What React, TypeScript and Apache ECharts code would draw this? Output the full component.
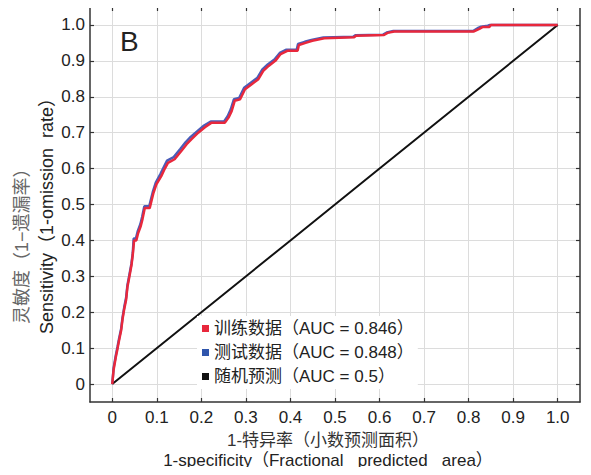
import React, { useEffect, useRef } from "react";
import * as echarts from "echarts";

const tickValues = [0, 0.1, 0.2, 0.3, 0.4, 0.5, 0.6, 0.7, 0.8, 0.9, 1.0];

const legendNames = [
  "训练数据（AUC = 0.846）",
  "测试数据（AUC = 0.848）",
  "随机预测（AUC = 0.5）",
];

// Training ROC: [1-specificity, sensitivity]
const trainRoc = [
  [0, 0], [0.003, 0.04], [0.008, 0.075], [0.012, 0.1], [0.015, 0.12], [0.02, 0.15],
  [0.023, 0.18], [0.027, 0.21], [0.031, 0.234], [0.034, 0.27], [0.037, 0.29],
  [0.04, 0.31], [0.043, 0.33], [0.046, 0.36], [0.049, 0.4], [0.054, 0.4],
  [0.058, 0.42], [0.064, 0.44], [0.068, 0.46], [0.073, 0.49], [0.084, 0.49],
  [0.088, 0.51], [0.092, 0.53], [0.099, 0.556], [0.11, 0.579], [0.118, 0.6],
  [0.125, 0.616], [0.14, 0.626], [0.155, 0.649], [0.167, 0.668], [0.178, 0.682],
  [0.193, 0.7], [0.208, 0.715], [0.223, 0.728], [0.253, 0.728], [0.261, 0.742],
  [0.268, 0.76], [0.275, 0.789], [0.287, 0.793], [0.298, 0.821], [0.313, 0.835],
  [0.328, 0.849], [0.339, 0.872], [0.351, 0.886], [0.366, 0.9], [0.378, 0.919],
  [0.393, 0.928], [0.416, 0.928], [0.419, 0.944], [0.434, 0.95], [0.449, 0.956],
  [0.476, 0.963], [0.543, 0.966], [0.547, 0.97], [0.61, 0.972], [0.618, 0.978],
  [0.633, 0.982], [0.812, 0.982], [0.824, 0.989], [0.831, 0.994], [0.846, 0.994],
  [0.85, 1.0], [1.0, 1.0],
];

// Test ROC
const testRoc = [
  [0, 0], [0.003, 0.045], [0.008, 0.08], [0.012, 0.105], [0.015, 0.125], [0.02, 0.155],
  [0.023, 0.185], [0.027, 0.215], [0.031, 0.24], [0.034, 0.275], [0.037, 0.295],
  [0.04, 0.315], [0.043, 0.335], [0.046, 0.365], [0.048, 0.405], [0.053, 0.405],
  [0.057, 0.425], [0.063, 0.445], [0.067, 0.465], [0.072, 0.495], [0.083, 0.495],
  [0.087, 0.515], [0.091, 0.535], [0.098, 0.562], [0.108, 0.585], [0.116, 0.605],
  [0.123, 0.622], [0.138, 0.632], [0.153, 0.655], [0.165, 0.674], [0.176, 0.688],
  [0.191, 0.704], [0.206, 0.72], [0.221, 0.731], [0.251, 0.731], [0.259, 0.746],
  [0.266, 0.765], [0.273, 0.793], [0.285, 0.797], [0.296, 0.825], [0.311, 0.839],
  [0.326, 0.853], [0.337, 0.876], [0.349, 0.89], [0.364, 0.904], [0.376, 0.922],
  [0.391, 0.931], [0.414, 0.931], [0.417, 0.947], [0.432, 0.953], [0.447, 0.958],
  [0.474, 0.965], [0.541, 0.967], [0.545, 0.971], [0.608, 0.973], [0.616, 0.979],
  [0.631, 0.983], [0.81, 0.983], [0.82, 0.991], [0.828, 0.995], [0.843, 0.998],
  [0.848, 1.0], [1.0, 1.0],
];

// Random prediction
const randomRoc = [
  [0, 0], [0.2, 0.2], [0.4, 0.4], [0.6, 0.6], [0.8, 0.8], [1.0, 1.0],
];

const FONT = "'Liberation Sans', Arial, 'Noto Sans CJK SC', sans-serif";

export default function App() {
  const ref = useRef<HTMLDivElement>(null);

  useEffect(() => {
    if (!ref.current) return;
    const chart = echarts.init(ref.current, undefined, { renderer: "svg" });
    const fmt = (v: number) => (Math.abs(v) < 1e-9 ? "0" : v.toFixed(1));
    const frameColor = "#333";
    const baseAxis = {
      type: "value",
      min: -0.05,
      max: 1.05,
      axisLine: { show: true, onZero: false, lineStyle: { color: frameColor, width: 1.5 } },
      axisTick: { show: true, inside: true, length: 4, customValues: tickValues, lineStyle: { color: frameColor, width: 1.2 } },
    };
    chart.setOption({
      animation: false,
      backgroundColor: "#fff",
      grid: { left: 90, top: 7, right: 11, bottom: 73, containLabel: false },
      xAxis: [
        {
          ...baseAxis,
          position: "bottom",
          axisLabel: { show: true, customValues: tickValues, formatter: fmt, fontSize: 17, color: "#222", fontFamily: FONT, margin: 7 },
          splitLine: { show: true, lineStyle: { color: "#dcdcdc", width: 1 } },
        },
        {
          ...baseAxis,
          position: "top",
          axisLabel: { show: false },
          splitLine: { show: false },
        },
      ],
      yAxis: [
        {
          ...baseAxis,
          position: "left",
          axisLabel: { show: true, customValues: tickValues, formatter: fmt, fontSize: 17, color: "#222", fontFamily: FONT, margin: 5 },
          splitLine: { show: true, lineStyle: { color: "#dcdcdc", width: 1 } },
        },
        {
          ...baseAxis,
          position: "right",
          axisLabel: { show: false },
          splitLine: { show: false },
        },
      ],
      legend: {
        data: legendNames,
        orient: "vertical",
        left: 197,
        top: 316,
        icon: "rect",
        itemWidth: 7,
        itemHeight: 7,
        itemGap: 7,
        padding: [4, 4, 4, 5],
        backgroundColor: "#fff",
        textStyle: { fontSize: 17, color: "#222", fontFamily: FONT },
        selectedMode: false,
      },
      graphic: [
        {
          type: "text",
          left: 120,
          top: 27,
          style: { text: "B", fontSize: 28, fill: "#222", fontFamily: FONT },
        },
        {
          type: "text",
          x: 22,
          y: 324,
          rotation: Math.PI / 2,
          style: { text: "灵敏度（1−遗漏率）", fontSize: 18, fill: "#666", fontFamily: FONT, align: "left", verticalAlign: "middle" },
        },
        {
          type: "text",
          x: 47,
          y: 334,
          rotation: Math.PI / 2,
          style: { text: "Sensitivity（1-omission  rate）", fontSize: 18, fill: "#222", fontFamily: FONT, align: "left", verticalAlign: "middle" },
        },
        {
          type: "text",
          x: 328,
          y: 440,
          style: { text: "1-特异率（小数预测面积）", fontSize: 17, fill: "#333", fontFamily: FONT, align: "center", verticalAlign: "middle" },
        },
        {
          type: "text",
          x: 328,
          y: 460,
          style: { text: "1-specificity（Fractional   predicted   area）", fontSize: 17, fill: "#222", fontFamily: FONT, align: "center", verticalAlign: "middle" },
        },
      ],
      series: [
        {
          name: legendNames[0],
          type: "line",
          data: trainRoc,
          showSymbol: false,
          z: 4,
          color: "#e8283c",
          lineStyle: { color: "#e8283c", width: 2.5 },
          itemStyle: { color: "#e8283c" },
        },
        {
          name: legendNames[1],
          type: "line",
          data: testRoc,
          showSymbol: false,
          z: 3,
          color: "#3456b0",
          lineStyle: { color: "#4a5cb8", width: 2.5 },
          itemStyle: { color: "#2f55ac" },
        },
        {
          name: legendNames[2],
          type: "line",
          data: randomRoc,
          showSymbol: false,
          z: 3,
          color: "#111",
          lineStyle: { color: "#111", width: 2 },
          itemStyle: { color: "#111" },
        },
      ],
    });
    return () => chart.dispose();
  }, []);

  return <div ref={ref} style={{ width: 591, height: 475, margin: -8 }} />;
}
